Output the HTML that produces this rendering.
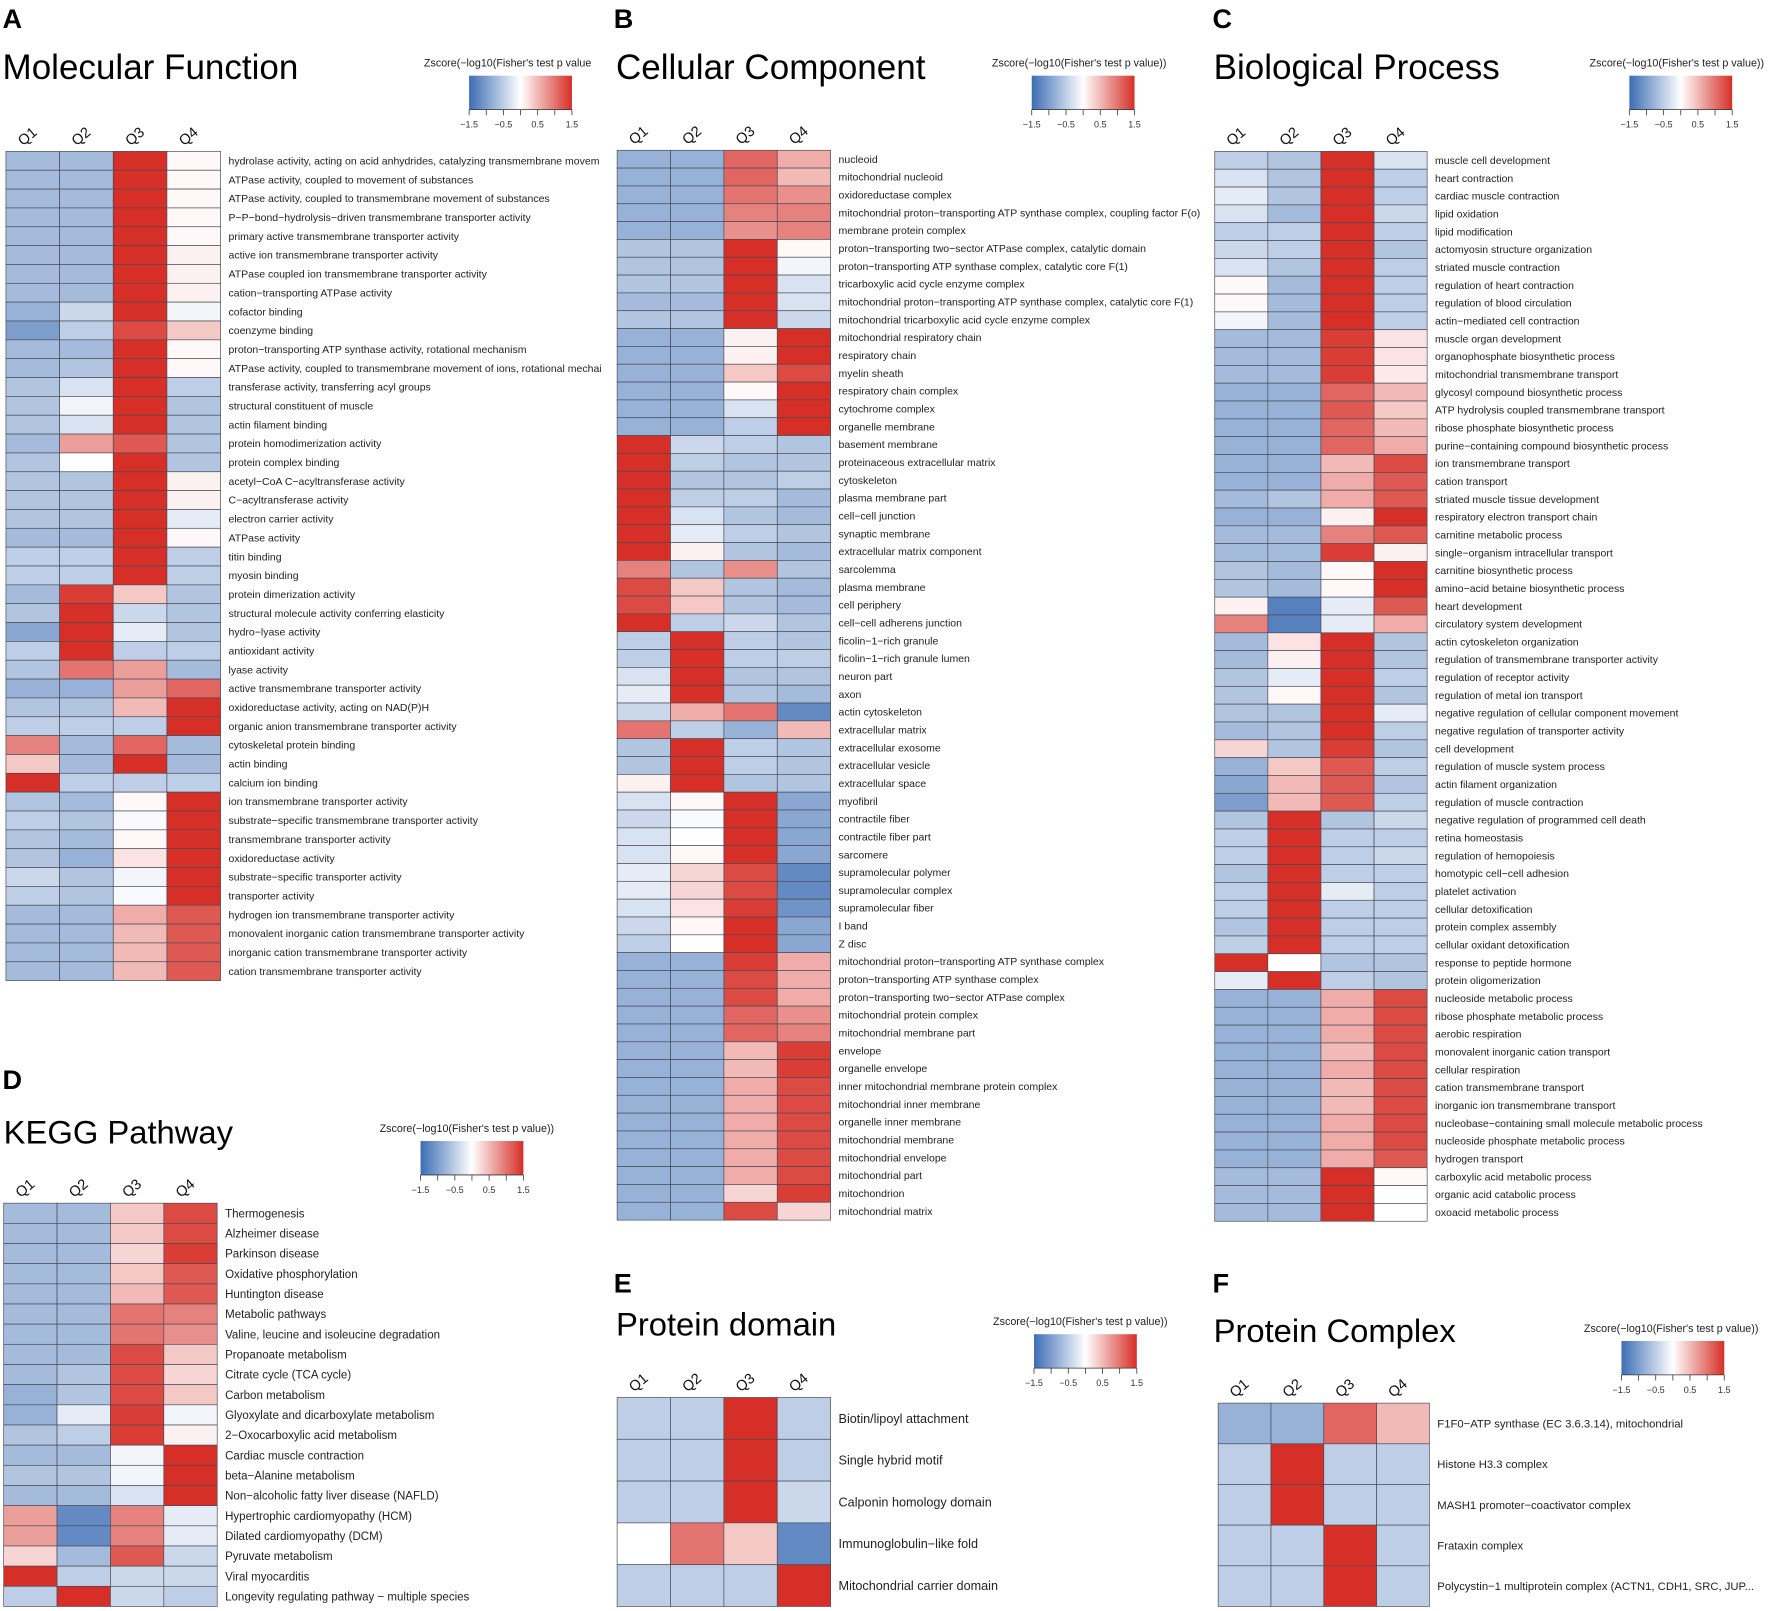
<!DOCTYPE html>
<html><head><meta charset="utf-8"><style>
html,body{margin:0;padding:0;background:#fff;}
svg{display:block;font-family:"Liberation Sans",Arial,sans-serif;}
</style></head><body>
<svg id="fig" width="1772" height="1611" viewBox="0 0 1568 1426" xmlns="http://www.w3.org/2000/svg">
<defs><linearGradient id="zgrad" x1="0" x2="1" y1="0" y2="0"><stop offset="0" stop-color="#3c6db4"/><stop offset="0.5" stop-color="#ffffff"/><stop offset="1" stop-color="#d62f27"/></linearGradient></defs>
</svg>
<script>
const colLabels = ['Q1','Q2','Q3','Q4'];
const cbTicks = [-1.5,-0.5,0.5,1.5];

const mfLabels = ["hydrolase activity, acting on acid anhydrides, catalyzing transmembrane movem","ATPase activity, coupled to movement of substances","ATPase activity, coupled to transmembrane movement of substances","P−P−bond−hydrolysis−driven transmembrane transporter activity","primary active transmembrane transporter activity","active ion transmembrane transporter activity","ATPase coupled ion transmembrane transporter activity","cation−transporting ATPase activity","cofactor binding","coenzyme binding","proton−transporting ATP synthase activity, rotational mechanism","ATPase activity, coupled to transmembrane movement of ions, rotational mechai","transferase activity, transferring acyl groups","structural constituent of muscle","actin filament binding","protein homodimerization activity","protein complex binding","acetyl−CoA C−acyltransferase activity","C−acyltransferase activity","electron carrier activity","ATPase activity","titin binding","myosin binding","protein dimerization activity","structural molecule activity conferring elasticity","hydro−lyase activity","antioxidant activity","lyase activity","active transmembrane transporter activity","oxidoreductase activity, acting on NAD(P)H","organic anion transmembrane transporter activity","cytoskeletal protein binding","actin binding","calcium ion binding","ion transmembrane transporter activity","substrate−specific transmembrane transporter activity","transmembrane transporter activity","oxidoreductase activity","substrate−specific transporter activity","transporter activity","hydrogen ion transmembrane transporter activity","monovalent inorganic cation transmembrane transporter activity","inorganic cation transmembrane transporter activity","cation transmembrane transporter activity"];
const mfValues = [[-0.7,-0.7,1.5,0.05],[-0.7,-0.7,1.5,0.05],[-0.7,-0.7,1.5,0.05],[-0.7,-0.7,1.5,0.05],[-0.7,-0.7,1.5,0.05],[-0.7,-0.7,1.5,0.1],[-0.7,-0.7,1.5,0.1],[-0.7,-0.7,1.5,0.1],[-0.8,-0.4,1.5,-0.1],[-1.0,-0.5,1.3,0.4],[-0.7,-0.7,1.5,0.05],[-0.7,-0.6,1.5,0.05],[-0.6,-0.3,1.5,-0.5],[-0.6,-0.1,1.5,-0.6],[-0.6,-0.3,1.5,-0.6],[-0.7,0.7,1.2,-0.6],[-0.6,0,1.5,-0.6],[-0.6,-0.6,1.5,0.1],[-0.6,-0.6,1.5,0.1],[-0.6,-0.6,1.5,-0.2],[-0.7,-0.7,1.5,0.05],[-0.5,-0.5,1.5,-0.5],[-0.5,-0.5,1.5,-0.5],[-0.7,1.4,0.4,-0.6],[-0.6,1.5,-0.4,-0.6],[-0.9,1.5,-0.2,-0.6],[-0.5,1.5,-0.5,-0.5],[-0.6,1.0,0.7,-0.7],[-0.8,-0.8,0.7,1.1],[-0.6,-0.6,0.5,1.5],[-0.5,-0.5,-0.5,1.5],[0.9,-0.7,1.1,-0.7],[0.4,-0.7,1.5,-0.7],[1.5,-0.5,-0.5,-0.5],[-0.6,-0.7,0.05,1.5],[-0.5,-0.6,-0.05,1.5],[-0.6,-0.7,0.05,1.5],[-0.6,-0.8,0.2,1.5],[-0.4,-0.6,-0.1,1.5],[-0.5,-0.6,-0.05,1.5],[-0.7,-0.7,0.6,1.2],[-0.7,-0.7,0.5,1.2],[-0.7,-0.7,0.5,1.2],[-0.7,-0.7,0.5,1.2]];

const ccLabels = ["nucleoid","mitochondrial nucleoid","oxidoreductase complex","mitochondrial proton−transporting ATP synthase complex, coupling factor F(o)","membrane protein complex","proton−transporting two−sector ATPase complex, catalytic domain","proton−transporting ATP synthase complex, catalytic core F(1)","tricarboxylic acid cycle enzyme complex","mitochondrial proton−transporting ATP synthase complex, catalytic core F(1)","mitochondrial tricarboxylic acid cycle enzyme complex","mitochondrial respiratory chain","respiratory chain","myelin sheath","respiratory chain complex","cytochrome complex","organelle membrane","basement membrane","proteinaceous extracellular matrix","cytoskeleton","plasma membrane part","cell−cell junction","synaptic membrane","extracellular matrix component","sarcolemma","plasma membrane","cell periphery","cell−cell adherens junction","ficolin−1−rich granule","ficolin−1−rich granule lumen","neuron part","axon","actin cytoskeleton","extracellular matrix","extracellular exosome","extracellular vesicle","extracellular space","myofibril","contractile fiber","contractile fiber part","sarcomere","supramolecular polymer","supramolecular complex","supramolecular fiber","I band","Z disc","mitochondrial proton−transporting ATP synthase complex","proton−transporting ATP synthase complex","proton−transporting two−sector ATPase complex","mitochondrial protein complex","mitochondrial membrane part","envelope","organelle envelope","inner mitochondrial membrane protein complex","mitochondrial inner membrane","organelle inner membrane","mitochondrial membrane","mitochondrial envelope","mitochondrial part","mitochondrion","mitochondrial matrix"];
const ccValues = [[-0.8,-0.8,1.1,0.6],[-0.8,-0.8,1.1,0.5],[-0.8,-0.8,1.0,0.8],[-0.8,-0.8,0.9,0.9],[-0.8,-0.8,0.8,0.9],[-0.6,-0.6,1.5,0.05],[-0.6,-0.6,1.5,-0.1],[-0.6,-0.6,1.5,-0.3],[-0.7,-0.7,1.5,-0.3],[-0.6,-0.6,1.5,-0.4],[-0.8,-0.8,0.1,1.5],[-0.8,-0.8,0.1,1.5],[-0.8,-0.8,0.4,1.3],[-0.8,-0.8,0.05,1.5],[-0.8,-0.8,-0.3,1.5],[-0.8,-0.8,-0.5,1.5],[1.5,-0.4,-0.5,-0.6],[1.5,-0.5,-0.6,-0.6],[1.5,-0.6,-0.6,-0.5],[1.5,-0.5,-0.5,-0.7],[1.5,-0.3,-0.6,-0.7],[1.5,-0.2,-0.5,-0.6],[1.5,0.1,-0.6,-0.7],[0.9,-0.6,0.8,-0.6],[1.3,0.4,-0.6,-0.7],[1.3,0.4,-0.6,-0.7],[1.5,-0.5,-0.4,-0.6],[-0.5,1.5,-0.5,-0.6],[-0.5,1.5,-0.5,-0.5],[-0.3,1.5,-0.6,-0.6],[-0.2,1.5,-0.6,-0.7],[-0.4,0.6,1.0,-1.2],[1.0,-0.5,-0.8,0.5],[-0.6,1.5,-0.5,-0.6],[-0.6,1.5,-0.5,-0.6],[0.1,1.5,-0.6,-0.6],[-0.3,0.05,1.5,-0.9],[-0.4,-0.05,1.5,-0.9],[-0.3,0.0,1.5,-0.9],[-0.3,0.05,1.5,-0.9],[-0.2,0.3,1.3,-1.2],[-0.2,0.3,1.3,-1.2],[-0.3,0.2,1.4,-1.1],[-0.4,0.05,1.5,-0.9],[-0.5,0.0,1.5,-0.9],[-0.8,-0.8,1.4,0.6],[-0.8,-0.8,1.3,0.6],[-0.8,-0.8,1.3,0.6],[-0.8,-0.8,1.1,0.8],[-0.8,-0.8,1.1,0.9],[-0.8,-0.8,0.5,1.4],[-0.8,-0.8,0.5,1.4],[-0.8,-0.8,0.6,1.3],[-0.8,-0.8,0.6,1.3],[-0.8,-0.8,0.6,1.3],[-0.8,-0.8,0.6,1.3],[-0.8,-0.8,0.6,1.3],[-0.8,-0.8,0.6,1.3],[-0.8,-0.8,0.3,1.4],[-0.8,-0.8,1.3,0.3]];

const bpLabels = ["muscle cell development","heart contraction","cardiac muscle contraction","lipid oxidation","lipid modification","actomyosin structure organization","striated muscle contraction","regulation of heart contraction","regulation of blood circulation","actin−mediated cell contraction","muscle organ development","organophosphate biosynthetic process","mitochondrial transmembrane transport","glycosyl compound biosynthetic process","ATP hydrolysis coupled transmembrane transport","ribose phosphate biosynthetic process","purine−containing compound biosynthetic process","ion transmembrane transport","cation transport","striated muscle tissue development","respiratory electron transport chain","carnitine metabolic process","single−organism intracellular transport","carnitine biosynthetic process","amino−acid betaine biosynthetic process","heart development","circulatory system development","actin cytoskeleton organization","regulation of transmembrane transporter activity","regulation of receptor activity","regulation of metal ion transport","negative regulation of cellular component movement","negative regulation of transporter activity","cell development","regulation of muscle system process","actin filament organization","regulation of muscle contraction","negative regulation of programmed cell death","retina homeostasis","regulation of hemopoiesis","homotypic cell−cell adhesion","platelet activation","cellular detoxification","protein complex assembly","cellular oxidant detoxification","response to peptide hormone","protein oligomerization","nucleoside metabolic process","ribose phosphate metabolic process","aerobic respiration","monovalent inorganic cation transport","cellular respiration","cation transmembrane transport","inorganic ion transmembrane transport","nucleobase−containing small molecule metabolic process","nucleoside phosphate metabolic process","hydrogen transport","carboxylic acid metabolic process","organic acid catabolic process","oxoacid metabolic process"];
const bpValues = [[-0.5,-0.6,1.5,-0.3],[-0.3,-0.6,1.5,-0.5],[-0.2,-0.6,1.5,-0.5],[-0.3,-0.7,1.5,-0.4],[-0.5,-0.5,1.5,-0.5],[-0.4,-0.5,1.5,-0.6],[-0.3,-0.6,1.5,-0.5],[0.05,-0.7,1.5,-0.5],[0.05,-0.7,1.5,-0.5],[-0.1,-0.7,1.5,-0.5],[-0.7,-0.7,1.4,0.2],[-0.7,-0.7,1.4,0.2],[-0.7,-0.7,1.4,0.15],[-0.8,-0.8,1.1,0.5],[-0.8,-0.8,1.2,0.4],[-0.8,-0.8,1.1,0.5],[-0.8,-0.8,1.1,0.6],[-0.8,-0.8,0.5,1.3],[-0.8,-0.8,0.6,1.2],[-0.7,-0.6,0.6,1.2],[-0.8,-0.8,0.1,1.5],[-0.7,-0.7,0.9,1.2],[-0.7,-0.7,1.4,0.1],[-0.6,-0.7,0.05,1.5],[-0.6,-0.7,0.05,1.5],[0.1,-1.3,-0.2,1.2],[0.9,-1.3,-0.2,0.6],[-0.7,0.2,1.5,-0.6],[-0.7,0.1,1.5,-0.6],[-0.6,-0.2,1.5,-0.5],[-0.6,0.05,1.5,-0.6],[-0.6,-0.6,1.5,-0.2],[-0.7,-0.6,1.5,-0.5],[0.3,-0.6,1.4,-0.6],[-0.8,0.4,1.2,-0.5],[-0.9,0.5,1.2,-0.6],[-1.0,0.5,1.2,-0.5],[-0.6,1.5,-0.6,-0.4],[-0.5,1.5,-0.5,-0.5],[-0.5,1.5,-0.5,-0.4],[-0.6,1.5,-0.5,-0.5],[-0.5,1.5,-0.2,-0.5],[-0.5,1.5,-0.5,-0.5],[-0.6,1.5,-0.5,-0.5],[-0.5,1.5,-0.5,-0.5],[1.5,0.0,-0.6,-0.6],[-0.2,1.5,-0.5,-0.6],[-0.8,-0.8,0.6,1.3],[-0.8,-0.8,0.6,1.3],[-0.8,-0.8,0.6,1.3],[-0.8,-0.8,0.5,1.3],[-0.8,-0.8,0.6,1.3],[-0.8,-0.8,0.5,1.3],[-0.8,-0.8,0.5,1.3],[-0.8,-0.8,0.6,1.3],[-0.8,-0.8,0.6,1.3],[-0.8,-0.8,0.6,1.2],[-0.7,-0.7,1.5,0.05],[-0.7,-0.7,1.5,0.0],[-0.7,-0.7,1.5,0.0]];

const keggLabels = ["Thermogenesis","Alzheimer disease","Parkinson disease","Oxidative phosphorylation","Huntington disease","Metabolic pathways","Valine, leucine and isoleucine degradation","Propanoate metabolism","Citrate cycle (TCA cycle)","Carbon metabolism","Glyoxylate and dicarboxylate metabolism","2−Oxocarboxylic acid metabolism","Cardiac muscle contraction","beta−Alanine metabolism","Non−alcoholic fatty liver disease (NAFLD)","Hypertrophic cardiomyopathy (HCM)","Dilated cardiomyopathy (DCM)","Pyruvate metabolism","Viral myocarditis","Longevity regulating pathway − multiple species"];
const keggValues = [[-0.7,-0.7,0.4,1.3],[-0.7,-0.7,0.4,1.3],[-0.7,-0.7,0.3,1.4],[-0.7,-0.7,0.4,1.2],[-0.7,-0.7,0.5,1.2],[-0.7,-0.7,1.0,0.9],[-0.7,-0.7,1.0,0.8],[-0.7,-0.7,1.3,0.4],[-0.7,-0.6,1.3,0.3],[-0.8,-0.6,1.3,0.4],[-0.8,-0.2,1.4,-0.1],[-0.6,-0.5,1.4,0.1],[-0.7,-0.7,-0.1,1.5],[-0.6,-0.6,-0.1,1.5],[-0.7,-0.7,-0.3,1.5],[0.7,-1.2,0.9,-0.2],[0.7,-1.2,0.9,-0.2],[0.3,-0.7,1.2,-0.4],[1.5,-0.5,-0.4,-0.4],[-0.5,1.5,-0.4,-0.5]];

const domLabels = ["Biotin/lipoyl attachment","Single hybrid motif","Calponin homology domain","Immunoglobulin−like fold","Mitochondrial carrier domain"];
const domValues = [[-0.5,-0.5,1.5,-0.5],[-0.5,-0.5,1.5,-0.5],[-0.5,-0.5,1.5,-0.4],[0.0,1.0,0.4,-1.2],[-0.5,-0.5,-0.5,1.5]];

const cpxLabels = ["F1F0−ATP synthase (EC 3.6.3.14), mitochondrial","Histone H3.3 complex","MASH1 promoter−coactivator complex","Frataxin complex","Polycystin−1 multiprotein complex (ACTN1, CDH1, SRC, JUP..."];
const cpxValues = [[-0.8,-0.8,1.1,0.5],[-0.5,1.5,-0.5,-0.5],[-0.5,1.5,-0.5,-0.5],[-0.5,-0.5,1.5,-0.5],[-0.5,-0.5,1.5,-0.5]];

const NS='http://www.w3.org/2000/svg';
const svg=document.getElementById('fig');
function mk(tag,attrs,parent){const e=document.createElementNS(NS,tag);for(const k in attrs)e.setAttribute(k,attrs[k]);(parent||svg).appendChild(e);return e;}
function lerp(a,b,t){return Math.round(a+(b-a)*t);}
function zColor(z){z=Math.max(-1.5,Math.min(1.5,z));const B=[60,109,180],W=[255,255,255],R=[214,47,39];let c;
 if(z<0){const t=(z+1.5)/1.5;c=[lerp(B[0],W[0],t),lerp(B[1],W[1],t),lerp(B[2],W[2],t)];}
 else{const t=z/1.5;c=[lerp(W[0],R[0],t),lerp(W[1],R[1],t),lerp(W[2],R[2],t)];}
 return 'rgb('+c.join(',')+')';}

const panels=[
 {id:'a',letter:'A',title:'Molecular Function',labels:mfLabels,values:mfValues,lx:2,ly:25,tx:2,ty:70,ts:31,x:5,y:134,w:190,h:734,fs:9.3,cbText:"Zscore(−log10(Fisher's test p value",cbx:415,cby:67,cbtx:375,cbAnchor:'start'},
 {id:'b',letter:'B',title:'Cellular Component',labels:ccLabels,values:ccValues,lx:543,ly:25,tx:545,ty:70,ts:31,x:546,y:133,w:189,h:947,fs:9.3,cbText:"Zscore(−log10(Fisher's test p value))",cbx:913,cby:67,cbtx:955,cbAnchor:'middle'},
 {id:'c',letter:'C',title:'Biological Process',labels:bpLabels,values:bpValues,lx:1073,ly:25,tx:1074,ty:70,ts:31,x:1075,y:134,w:188,h:947,fs:9.3,cbText:"Zscore(−log10(Fisher's test p value))",cbx:1442,cby:67,cbtx:1484,cbAnchor:'middle'},
 {id:'d',letter:'D',title:'KEGG Pathway',labels:keggLabels,values:keggValues,lx:2,ly:964,tx:3,ty:1012,ts:29,x:3,y:1065,w:189,h:357,fs:10.2,cbText:"Zscore(−log10(Fisher's test p value))",cbx:372,cby:1010,cbtx:413,cbAnchor:'middle'},
 {id:'e',letter:'E',title:'Protein domain',labels:domLabels,values:domValues,lx:543,ly:1144,tx:545,ty:1182,ts:29,x:546,y:1237,w:189,h:185,fs:11.2,cbText:"Zscore(−log10(Fisher's test p value))",cbx:915,cby:1181,cbtx:956,cbAnchor:'middle'},
 {id:'f',letter:'F',title:'Protein Complex',labels:cpxLabels,values:cpxValues,lx:1073,ly:1144,tx:1074,ty:1188,ts:29,x:1078,y:1242,w:187,h:180,fs:10,cbText:"Zscore(−log10(Fisher's test p value))",cbx:1435,cby:1187,cbtx:1479,cbAnchor:'middle'}
];

panels.forEach(p=>{
 const g=mk('g',{});
 
 
 const L=mk('text',{x:p.lx,y:p.ly,'font-size':24,'font-weight':'bold',fill:'#000'},g);L.textContent=p.letter;
 
 
 const T=mk('text',{x:p.tx,y:p.ty,'font-size':p.ts,fill:'#000'},g);T.textContent=p.title;
 
 
 // colorbar
 const cb=mk('g',{},g);
 
 
 const ct=mk('text',{x:p.cbtx,y:p.cby-8,'font-size':9.5,'text-anchor':p.cbAnchor,fill:'#222'},cb);ct.textContent=p.cbText;
 
 
 const cbw=91,cbh=30;
 const cr=mk('rect',{x:p.cbx,y:p.cby,width:cbw,height:cbh,fill:'url(#zgrad)'},cb);
 
 
 const cs=v=>p.cbx+(v+1.5)/3*cbw;
 for(let v=-1.5;v<=1.51;v+=0.5){mk('line',{x1:cs(v),x2:cs(v),y1:p.cby+cbh,y2:p.cby+cbh+5,stroke:'#333','stroke-width':0.7},cb);}
 mk('line',{x1:p.cbx,x2:p.cbx+cbw,y1:p.cby+cbh,y2:p.cby+cbh,stroke:'#333','stroke-width':0.7},cb);
 cbTicks.forEach(v=>{const t=mk('text',{x:cs(v),y:p.cby+cbh+16,'font-size':8,'text-anchor':'middle',fill:'#333'},cb);t.textContent=String(v).replace('-','−');
  
  });
 // heatmap
 const n=p.values.length, cw=p.w/4, rh=p.h/n;
 const xs=j=>p.x+j*cw, ys=i=>p.y+i*rh;
 colLabels.forEach((c,j)=>{const cx=xs(j)+cw/2-2, cy=p.y-10;
  const t=mk('text',{x:cx,y:cy,'font-size':13,'text-anchor':'middle',fill:'#111',transform:'rotate(-40 '+cx+' '+cy+')'},g);t.textContent=c;
  
  });
 p.values.forEach((row,i)=>{
  row.forEach((v,j)=>{const r=mk('rect',{x:xs(j),y:ys(i),width:cw,height:rh,fill:zColor(v),stroke:'#4a4a55','stroke-width':0.6},g);
   
   });
  const t=mk('text',{x:p.x+p.w+7,y:ys(i)+rh/2+p.fs*0.35,'font-size':p.fs,fill:'#222'},g);t.textContent=p.labels[i];
  
  
 });
});
</script>
</body></html>
